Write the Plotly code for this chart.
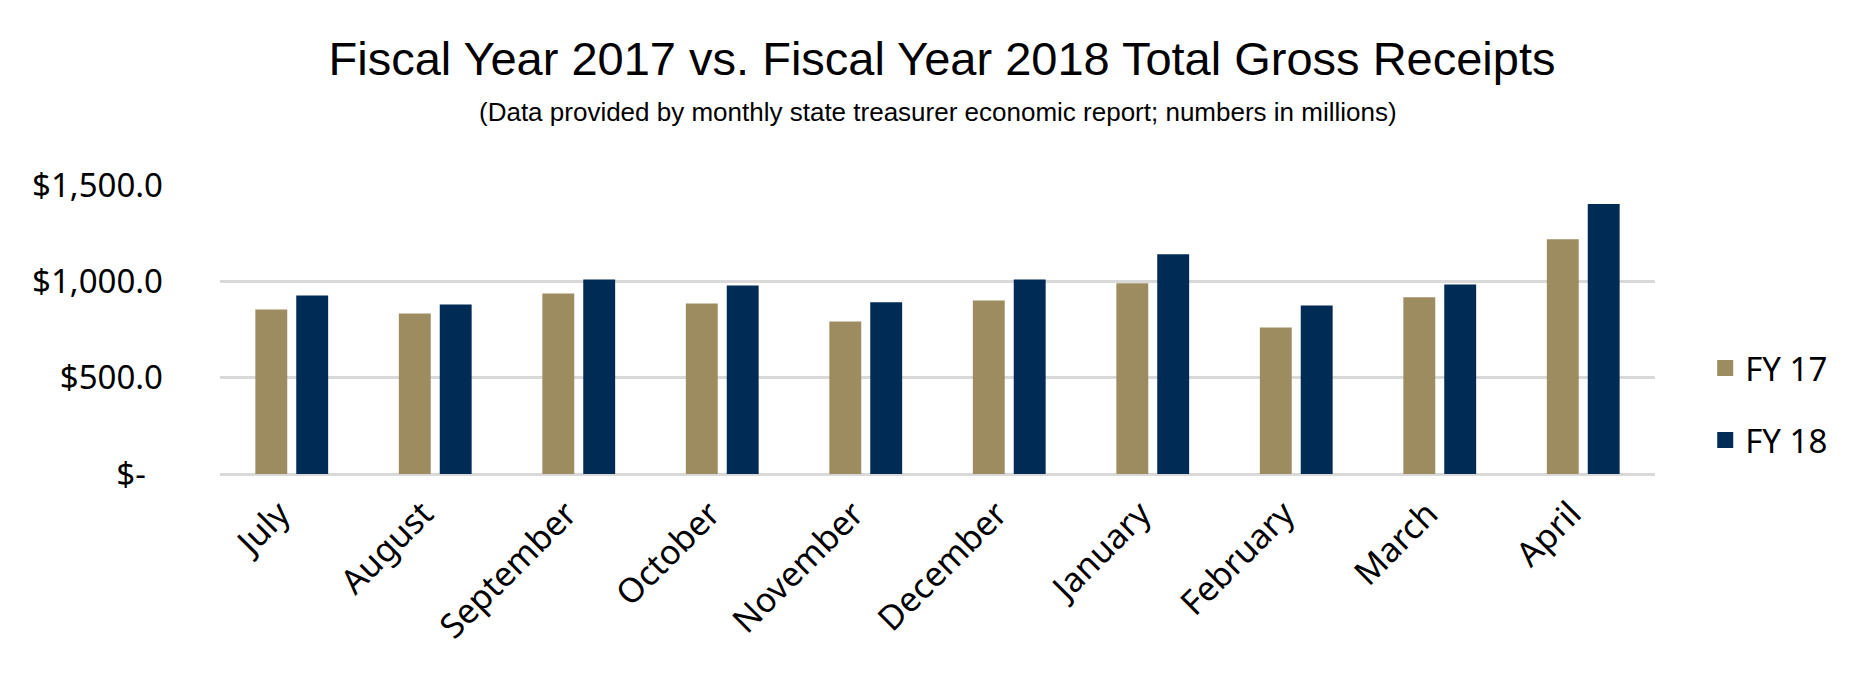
import plotly.graph_objects as go

# FY17 vs FY18 gross receipts (millions)
months = ["July", "August", "September", "October", "November",
          "December", "January", "February", "March", "April"]
fy17 = [854, 833, 937, 885, 792, 901, 990, 760, 917, 1219]
fy18 = [927, 880, 1010, 979, 891, 1010, 1141, 875, 984, 1401]

series_names = ["FY 17", "FY 18"]
y_tickvals = [0, 500, 1000, 1500]
y_ticktext = ["$-\u00a0\u00a0", "$500.0", "$1,000.0", "$1,500.0"]

TAN = "#9D8C60"
NAVY = "#002B55"
GRID = "#D9D9D9"
LABEL_FONT = "Noto Sans, Open Sans, sans-serif"
TITLE_FONT = "Liberation Sans Narrow, Arial Narrow, Liberation Sans, sans-serif"

W, H = 1868, 673
TOP, BOTTOM = 177, 207
plot_h = H - TOP - BOTTOM

fig = go.Figure()
for name, vals, color in zip(series_names, [fy17, fy18], [TAN, NAVY]):
    fig.add_trace(go.Bar(x=months, y=vals, name=name, marker_color=color,
                         marker_line_width=0, showlegend=False))
    # legend-only entry so the swatch can be bigger than the default bar chip
    fig.add_trace(go.Scatter(x=[None], y=[None], mode="markers", name=name,
                             legendgroup=name,
                             marker=dict(symbol="square", size=16, color=color)))

fig.update_layout(
    width=W, height=H,
    paper_bgcolor="white", plot_bgcolor="white",
    margin=dict(l=212, r=221, t=TOP, b=BOTTOM),
    barmode="group", bargap=0.43, bargroupgap=0.22,
    title=dict(text="Fiscal Year 2017 vs. Fiscal Year 2018 Total Gross Receipts",
               x=0.5, xanchor="center", y=1 - 51 / H, yanchor="middle",
               yref="container",
               font=dict(family=TITLE_FONT, size=47, color="#000000")),
    legend=dict(x=1.035, xanchor="left", y=0.242, yanchor="middle",
                font=dict(family=LABEL_FONT, size=33, color="#000000"),
                tracegroupgap=26, itemwidth=30, bgcolor="rgba(0,0,0,0)"),
    showlegend=True,
)

fig.add_annotation(
    text="(Data provided by monthly state treasurer economic report; numbers in millions)",
    xref="paper", yref="paper", x=0.5, y=(H - BOTTOM - 104) / plot_h,
    xanchor="center", yanchor="middle", showarrow=False,
    font=dict(family=TITLE_FONT, size=26, color="#000000"),
)

fig.update_yaxes(
    range=[0, 1500], tickvals=y_tickvals, ticktext=y_ticktext,
    showgrid=True, gridcolor=GRID, gridwidth=3,
    zeroline=True, zerolinecolor=GRID, zerolinewidth=3,
    showline=False, ticks="", ticklabelstandoff=56,
    tickfont=dict(family=LABEL_FONT, size=33, color="#000000"),
)
fig.update_xaxes(
    tickangle=-45, ticks="", showline=False,
    ticklabelstandoff=12, ticklabelshift=-12,
    tickfont=dict(family=LABEL_FONT, size=34, color="#000000"),
)

fig.write_html("out.html")
